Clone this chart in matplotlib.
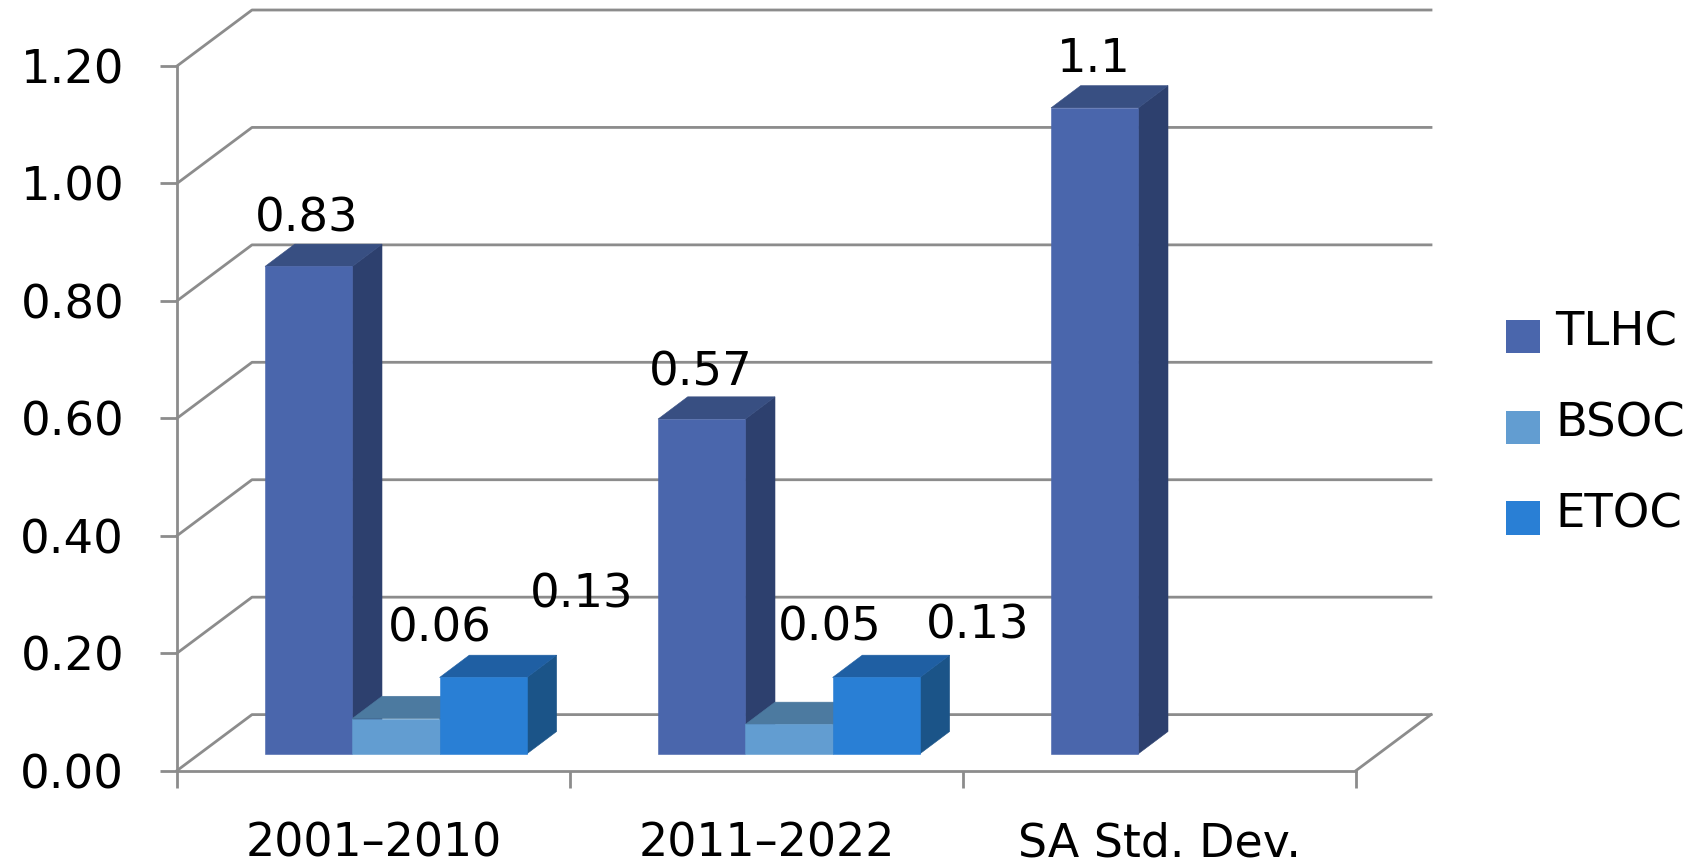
import matplotlib
matplotlib.use('Agg')
import matplotlib.pyplot as plt
from matplotlib.patches import Patch, Polygon

categories = ['2001–2010', '2011–2022', 'SA Std. Dev.']
y_ticks = [0.0, 0.2, 0.4, 0.6, 0.8, 1.0, 1.2]
series_names = ['TLHC', 'BSOC', 'ETOC']
tlhc = [0.83, 0.57, 1.1]
bsoc = [0.06, 0.05, None]
etoc = [0.13, 0.13, None]

# front, top, side shades for each series
shades = [('#4A66AC', '#384F82', '#2D406E'),
          ('#629DD1', '#4C7AA0', '#42698C'),
          ('#297FD5', '#1F5FA3', '#1B5488')]
line_col = '#8C8C8C'
fsize = 33.5
lw = 2.0

# label offsets from the top of each bar, in pixels (the source chart puts them oddly)
label_dx = [[-2, -1, -1], [44, 41, 0], [98, 101, 0]]
label_dy = [[47, 46, 48], [90, 96, 0], [82, 51, 0]]

W, H = 1690, 864
x0, x1 = 177, 1356
y0, y1 = 770.6, 66
px_x = (x1 - x0) / 3.0
px_y = (y0 - y1) / 1.2

# depth of the fake 3d box, in data units
wall_dx = 75 / px_x
wall_dy = 56 / px_y
bar_dx = 29.7 / px_x
bar_dy = 22.3 / px_y
bar_w = 87.3 / px_x
bar_start = 88 / px_x
floor = 16.8 / px_y

fig = plt.figure(figsize=(W / 100, H / 100), dpi=100, facecolor='white')
ax = fig.add_axes([x0 / W, 1 - y0 / H, (x1 - x0) / W, (y0 - y1) / H])
ax.set_xlim(0, 3)
ax.set_ylim(0, 1.2)
ax.patch.set_visible(False)

for s in ['top', 'right']:
    ax.spines[s].set_visible(False)
for s in ['left', 'bottom']:
    ax.spines[s].set_color(line_col)
    ax.spines[s].set_linewidth(lw)

ax.set_yticks(y_ticks)
ax.set_yticklabels(['%.2f' % t for t in y_ticks])
ax.set_xticks([0, 1, 2, 3])
ax.set_xticklabels([])
ax.set_xticks([0.5, 1.5, 2.5], minor=True)
ax.set_xticklabels(categories, minor=True)
ax.tick_params(axis='y', length=12, width=lw, color=line_col, pad=26, labelsize=fsize)
ax.tick_params(axis='x', which='major', length=12, width=lw, color=line_col)
ax.tick_params(axis='x', which='minor', length=0, pad=37, labelsize=33)

# back wall, left wall and floor
for t in y_ticks:
    ax.plot([0, wall_dx, 3 + wall_dx], [t, t + wall_dy, t + wall_dy],
            color=line_col, lw=lw, clip_on=False, zorder=1)
ax.plot([3, 3 + wall_dx], [0, wall_dy], color=line_col, lw=lw, clip_on=False, zorder=1)

# bars, left to right so that each one covers the side of the previous
z = 2
for i in range(len(categories)):
    for j, vals in enumerate([tlhc, bsoc, etoc]):
        v = vals[i]
        if v is None:
            continue
        front, top, side = shades[j]
        a = i + bar_start + j * bar_w
        b = a + bar_w
        t = floor + v
        ax.add_patch(Polygon([(b, floor), (b + bar_dx, floor + bar_dy), (b + bar_dx, t + bar_dy), (b, t)],
                             fc=side, ec=side, lw=0.4, clip_on=False, zorder=z))
        ax.add_patch(Polygon([(a, t), (a + bar_dx, t + bar_dy), (b + bar_dx, t + bar_dy), (b, t)],
                             fc=top, ec=top, lw=0.4, clip_on=False, zorder=z))
        ax.add_patch(Polygon([(a, floor), (b, floor), (b, t), (a, t)],
                             fc=front, ec=front, lw=0.4, clip_on=False, zorder=z))
        ax.annotate(str(v), xy=((a + b) / 2, t), xytext=(label_dx[j][i], label_dy[j][i]),
                    textcoords='offset pixels', ha='center', va='center',
                    fontsize=fsize, color='black', zorder=50, annotation_clip=False)
        z += 1

handles = [Patch(fc=shades[k][0], ec='none') for k in range(3)]
leg = fig.legend(handles, series_names, loc='center left', bbox_to_anchor=(1506 / W, 1 - 431 / H),
                 frameon=False, fontsize=fsize, handlelength=0.73, handleheight=0.73,
                 handletextpad=0.33, labelspacing=0.98, borderpad=0, borderaxespad=0)
for txt in leg.get_texts():
    txt.set_y(7)

plt.savefig('out.png', dpi=100)
